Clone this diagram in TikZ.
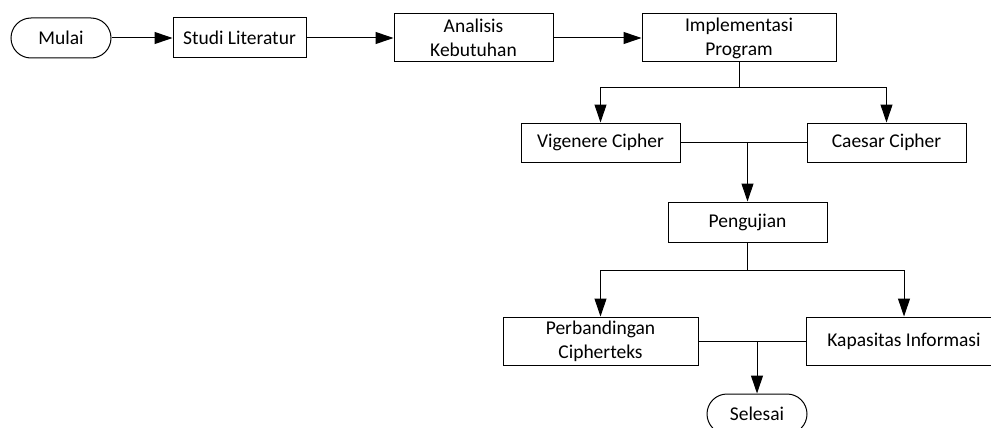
\documentclass[tikz,border=0pt]{standalone}
\usepackage{fontspec}
\setmainfont{Carlito}
\usepackage{tikz}
\usetikzlibrary{arrows.meta}

\tikzset{
    box/.style={draw, line width=1pt, align=center, inner sep=2pt, font=\fontsize{19.5}{24}\selectfont},
    terminal/.style={box, rounded corners=20pt, minimum width=100pt, minimum height=40pt},
    panah/.style={line width=1pt, -{Triangle[length=18pt,width=12pt]}},
    garis/.style={line width=1pt}
}

\begin{document}
\begin{tikzpicture}[x=1pt, y=-1pt]
            \useasboundingbox (0,0) rectangle (991,428);

            \node[terminal] (mulai) at (61, 38) {Mulai};
            \node[box, minimum width=133pt, minimum height=40pt] (studi) at (239.5, 38) {Studi Literatur};
            \node[box, minimum width=159pt, minimum height=48pt] (analisis) at (473.5, 38) {Analisis\\Kebutuhan};
            \node[box, minimum width=194pt, minimum height=48pt] (implementasi) at (739, 38) {Implementasi\\Program};
            \node[box, minimum width=159pt, minimum height=39pt] (vigenere) at (600.5, 142.5) {Vigenere Cipher};
            \node[box, minimum width=159pt, minimum height=39pt] (caesar) at (886.5, 142.5) {Caesar Cipher};
            \node[box, minimum width=159pt, minimum height=40pt] (pengujian) at (747.5, 222) {Pengujian};
            \node[box, minimum width=195pt, minimum height=48pt] (perbandingan) at (600.5, 341) {Perbandingan\\Cipherteks};
            \node[box, minimum width=195pt, minimum height=48pt] (kapasitas) at (904, 341) {Kapasitas Informasi};
            \node[terminal] (selesai) at (757, 414) {Selesai};

            \coordinate (cabang1) at (739, 88);
            \coordinate (cabang2) at (747.5, 270);

            \draw[panah] (mulai) -- (studi); % mulai-studi
            \draw[panah] (studi) -- (analisis); % studi-analisis
            \draw[panah] (analisis) -- (implementasi); % analisis-implementasi
            \draw[garis] (implementasi) -- (cabang1); % implementasi-cabang
            \draw[panah] (cabang1) -| (vigenere); % cabang-vigenere
            \draw[panah] (cabang1) -| (caesar); % cabang-caesar
            \draw[garis] (vigenere) -- (caesar); % vigenere-caesar
            \draw[panah] (vigenere.east -| pengujian) -- (pengujian); % gabung-pengujian
            \draw[garis] (pengujian) -- (cabang2); % pengujian-cabang
            \draw[panah] (cabang2) -| (perbandingan); % cabang-perbandingan
            \draw[panah] (cabang2) -| (kapasitas); % cabang-kapasitas
            \draw[garis] (perbandingan) -- (kapasitas); % perbandingan-kapasitas
            \draw[panah] (perbandingan.east -| selesai) -- (selesai); % gabung-selesai
        \end{tikzpicture}
\end{document}
